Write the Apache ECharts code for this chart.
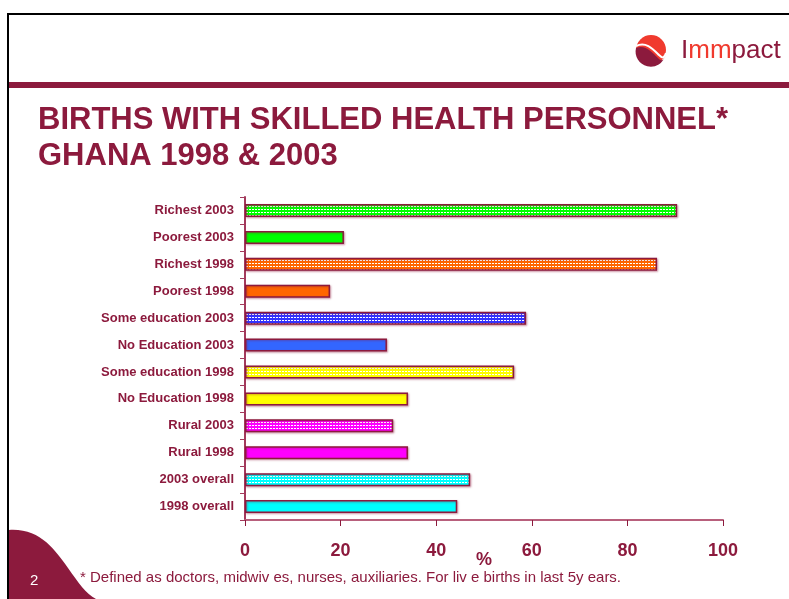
<!DOCTYPE html>
<html>
<head>
<meta charset="utf-8">
<script src="https://cdn.jsdelivr.net/npm/echarts@6/dist/echarts.min.js"></script>
<style>
  html, body { margin: 0; padding: 0; background: #fff; }
  #chart { width: 789px; height: 599px; }
</style>
</head>
<body>
<div id="chart"></div>
<script>
// categories, top to bottom as in the slide
const categories = [
  'Richest 2003',
  'Poorest 2003',
  'Richest 1998',
  'Poorest 1998',
  'Some education 2003',
  'No Education 2003',
  'Some education 1998',
  'No Education 1998',
  'Rural 2003',
  'Rural 1998',
  '2003 overall',
  '1998 overall'
]
const values = [90.4, 20.7, 86.2, 17.8, 58.8, 29.7, 56.3, 34.1, 31.0, 34.1, 47.1, 44.4] // % births with skilled personnel
const barColors = ['#00ff00', '#00ff00', '#ff6600', '#ff6600', '#3333ff', '#3366ff',
  '#ffff00', '#ffff00', '#ff00ff', '#ff00ff', '#00ffff', '#00ffff']
const patterned = [true, false, true, false, true, false, true, false, true, false, true, false]
const xTicks = [0, 20, 40, 60, 80, 100]

const MAROON = '#8c1a3d'
const FONT = '"Liberation Sans", Arial, sans-serif'

// decoration shapes (slide logo + footer), registered so graphic can use them
echarts.graphic.registerShape('footerBlob',
  echarts.graphic.extendPath('M9 530 C 40 528, 55 550, 68 568 C 78 582, 86 594, 96 599 L 9 599 Z'))
echarts.graphic.registerShape('logoLower',
  echarts.graphic.extendPath('M636 48 C 645 44, 652 52, 658 58 C 661 61, 664 62, 665.5 55 A 15 15 0 0 1 636 48 Z'))
echarts.graphic.registerShape('logoWave',
  echarts.graphic.extendPath('M636 46 C 646 41, 653 49, 659 55 C 662 58, 664 59, 666 53'))

// small dotted tile for the patterned bars
function makePattern(color) {
  const c = document.createElement('canvas')
  c.width = 3
  c.height = 3
  const ctx = c.getContext('2d')
  ctx.fillStyle = color
  ctx.fillRect(0, 0, 3, 3)
  ctx.fillStyle = '#ffffff'
  ctx.fillRect(0, 2, 2, 1)
  return { image: c, repeat: 'repeat' }
}

const barData = values.map((v, i) => ({
  value: v,
  itemStyle: {
    color: patterned[i] ? makePattern(barColors[i]) : barColors[i]
  }
}))

const option = {
  animation: false,
  backgroundColor: '#fff',
  grid: { left: 245, right: 66, top: 197, bottom: 79, containLabel: false },
  xAxis: {
    type: 'value',
    min: xTicks[0],
    max: xTicks[xTicks.length - 1],
    interval: 20,
    name: '%',
    nameLocation: 'middle',
    nameGap: 31,
    nameMoveOverlap: false,
    nameTextStyle: { color: MAROON, fontSize: 18, fontWeight: 'bold', fontFamily: FONT },
    axisLine: { show: true, lineStyle: { color: '#b8607c', width: 2 } },
    axisTick: { show: true, length: 6, lineStyle: { color: MAROON } },
    axisLabel: { margin: 22, color: MAROON, fontSize: 18, fontWeight: 'bold', fontFamily: FONT },
    splitLine: { show: false }
  },
  yAxis: {
    type: 'category',
    data: categories,
    inverse: true,
    axisLine: { show: true, lineStyle: { color: '#a33a5c', width: 2 } },
    axisTick: { show: true, length: 5, lineStyle: { color: '#a33a5c' } },
    axisLabel: { margin: 11, color: MAROON, fontSize: 13, fontWeight: 'bold', fontFamily: FONT }
  },
  series: [
    {
      type: 'bar',
      barWidth: 13,
      data: barData,
      itemStyle: {
        borderColor: MAROON,
        borderWidth: 1.5,
        shadowColor: 'rgba(140,26,61,0.4)',
        shadowBlur: 2,
        shadowOffsetX: 1,
        shadowOffsetY: 1
      }
    }
  ],
  graphic: [
    // slide frame
    { type: 'line', shape: { x1: 8, y1: 14, x2: 789, y2: 14 }, style: { stroke: '#000', lineWidth: 2 } },
    { type: 'line', shape: { x1: 8, y1: 13, x2: 8, y2: 599 }, style: { stroke: '#000', lineWidth: 2 } },
    { type: 'rect', shape: { x: 9, y: 82, width: 780, height: 6 }, style: { fill: MAROON } },
    // logo
    { type: 'circle', shape: { cx: 651, cy: 50, r: 15 }, style: { fill: '#f03a2e' } },
    { type: 'logoLower', style: { fill: MAROON } },
    { type: 'logoWave', style: { stroke: '#fff', lineWidth: 2, fill: null } },
    {
      type: 'text', left: 681, top: 38,
      style: {
        rich: {
          a: { fill: MAROON, fontSize: 26, fontFamily: FONT },
          b: { fill: '#f03a2e', fontSize: 26, fontFamily: FONT }
        },
        text: '{a|I}{b|mm}{a|pact}'
      }
    },
    // title
    {
      type: 'text', left: 38, top: 102,
      style: {
        text: 'BIRTHS WITH SKILLED HEALTH PERSONNEL*\nGHANA 1998 & 2003',
        fill: MAROON, fontSize: 31, fontWeight: 'bold', fontFamily: FONT, lineHeight: 36
      }
    },
    // footer
    { type: 'footerBlob', style: { fill: MAROON } },
    {
      type: 'text', left: 30, top: 573,
      style: { text: '2', fill: '#fff', fontSize: 15, fontFamily: FONT }
    },
    {
      type: 'text', left: 80, top: 570,
      style: {
        text: '* Defined as doctors, midwiv es, nurses, auxiliaries. For liv e births in last 5y ears.',
        fill: MAROON, fontSize: 15, fontFamily: FONT
      }
    }
  ]
}

const chart = echarts.init(document.getElementById('chart'))
chart.setOption(option)
</script>
</body>
</html>
